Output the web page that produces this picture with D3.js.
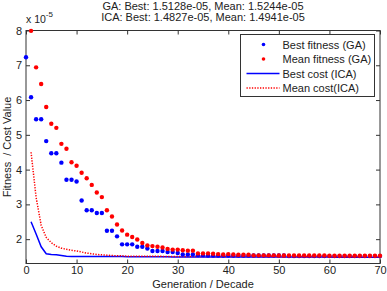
<!DOCTYPE html>
<html>
<head>
<meta charset="utf-8">
<script src="https://cdn.jsdelivr.net/npm/d3@7"></script>
<style>
  body { margin: 0; background: #fff; }
  svg { font-family: "Liberation Sans", Arial, sans-serif; }
</style>
</head>
<body>
<div id="chart"></div>
<script>
// GA results, one value per generation (x 1e-5)
const gaGenerations = d3.range(0, 71);
const gaBest = [7.23, 6.08, 5.45, 5.45, 4.82, 4.47, 4.47, 4.20, 3.71, 3.71,
  3.66, 3.11, 2.83, 2.83, 2.75, 2.75, 2.24, 2.24, 2.08, 1.85,
  1.85, 1.85, 1.78, 1.78, 1.73, 1.66, 1.66, 1.66, 1.63, 1.63,
  1.60, 1.56, 1.56, 1.56, 1.54, 1.54, 1.53, 1.53, 1.53, 1.53,
  1.53, 1.53, 1.53, 1.53, 1.53, 1.53, 1.53, 1.53, 1.53, 1.53,
  1.53, 1.53, 1.513, 1.513, 1.513, 1.513, 1.513, 1.513, 1.513, 1.513,
  1.513, 1.513, 1.513, 1.513, 1.513, 1.513, 1.513, 1.513, 1.513, 1.513, 1.513];
// mean at generation 0 lies above the axis limit and is not visible
const gaMean = [null, 7.99, 6.94, 6.46, 5.80, 5.32, 5.20, 4.74, 4.60, 4.21,
  4.11, 3.91, 3.75, 3.56, 3.34, 3.21, 2.83, 2.65, 2.42, 2.25,
  2.13, 2.06, 1.99, 1.89, 1.82, 1.80, 1.78, 1.76, 1.72, 1.70,
  1.70, 1.68, 1.67, 1.67, 1.59, 1.59, 1.59, 1.58, 1.57, 1.56,
  1.57, 1.56, 1.55, 1.55, 1.55, 1.535, 1.535, 1.535, 1.535, 1.535,
  1.53, 1.53, 1.53, 1.53, 1.53, 1.53, 1.53, 1.53, 1.53, 1.53,
  1.525, 1.525, 1.525, 1.525, 1.525, 1.525, 1.525, 1.525, 1.525, 1.525, 1.524];

// ICA results, one value per decade
const icaDecades = d3.range(1, 71);
const icaBest = [2.50, 2.15, 1.78, 1.58, 1.56, 1.55, 1.53, 1.51, 1.50, 1.50,
  1.50, 1.50, 1.50, 1.50, 1.50, 1.50, 1.50, 1.50, 1.50, 1.495,
  1.495, 1.495, 1.495, 1.495, 1.495, 1.495, 1.495, 1.495, 1.49, 1.49,
  1.49, 1.49, 1.49, 1.49, 1.49, 1.49, 1.49, 1.49, 1.49, 1.49,
  1.488, 1.488, 1.488, 1.488, 1.488, 1.488, 1.488, 1.488, 1.488, 1.488,
  1.485, 1.485, 1.485, 1.485, 1.485, 1.485, 1.485, 1.485, 1.485, 1.485,
  1.483, 1.483, 1.483, 1.483, 1.483, 1.483, 1.483, 1.483, 1.483, 1.483];
const icaMean = [4.50, 3.20, 2.40, 2.05, 1.90, 1.80, 1.74, 1.71, 1.68, 1.66,
  1.63, 1.60, 1.58, 1.56, 1.55, 1.54, 1.53, 1.52, 1.52, 1.51,
  1.51, 1.51, 1.51, 1.505, 1.505, 1.505, 1.505, 1.50, 1.50, 1.50,
  1.50, 1.50, 1.50, 1.50, 1.50, 1.50, 1.50, 1.50, 1.50, 1.50,
  1.498, 1.498, 1.498, 1.498, 1.498, 1.498, 1.498, 1.498, 1.498, 1.498,
  1.496, 1.496, 1.496, 1.496, 1.496, 1.496, 1.496, 1.496, 1.496, 1.496,
  1.494, 1.494, 1.494, 1.494, 1.494, 1.494, 1.494, 1.494, 1.494, 1.494];

const xTicks = [0, 10, 20, 30, 40, 50, 60, 70];
const yTicks = [2, 3, 4, 5, 6, 7, 8];
const titleLines = ["GA: Best: 1.5128e-05, Mean: 1.5244e-05",
  "ICA: Best: 1.4827e-05, Mean: 1.4941e-05"];
const legendItems = [
  { label: "Best fitness (GA)", color: "#0000ff", kind: "dot" },
  { label: "Mean fitness (GA)", color: "#ff0000", kind: "dot" },
  { label: "Best cost (ICA)", color: "#0000ff", kind: "solid" },
  { label: "Mean cost(ICA)", color: "#ff0000", kind: "dotted" }
];

const W = 387, H = 291;
const margin = { top: 30.5, right: 7, bottom: 27.5, left: 26 };
const width = W - margin.left - margin.right;
const height = H - margin.top - margin.bottom;

const svg = d3.select("#chart").append("svg")
  .attr("width", W).attr("height", H);

const g = svg.append("g")
  .attr("transform", `translate(${margin.left},${margin.top})`);

const x = d3.scaleLinear().domain([0, 70]).range([0, width]);
const y = d3.scaleLinear().domain([1.3, 8]).range([height, 0]);

// markers sitting on the limits stay whole, like in the original figure
svg.append("defs").append("clipPath").attr("id", "clip")
  .append("rect").attr("x", -3).attr("y", -3)
  .attr("width", width + 6).attr("height", height + 3.5);

const axisColor = "#333";

// ticks (inside, on all four sides)
const tickLen = 4;
g.append("g").call(d3.axisBottom(x).tickValues(xTicks).tickSize(-tickLen).tickPadding(3).tickFormat(d3.format("d")))
  .attr("transform", `translate(0,${height})`)
  .call(a => a.select(".domain").remove())
  .call(a => a.selectAll("line").attr("stroke", axisColor))
  .call(a => a.selectAll("text").attr("font-size", 11).attr("fill", "#222").attr("font-family", null));
g.append("g").call(d3.axisTop(x).tickValues(xTicks).tickSize(-tickLen).tickFormat(""))
  .call(a => a.select(".domain").remove())
  .call(a => a.selectAll("line").attr("stroke", axisColor));
g.append("g").call(d3.axisLeft(y).tickValues(yTicks).tickSize(-tickLen).tickPadding(4).tickFormat(d3.format("d")))
  .call(a => a.select(".domain").remove())
  .call(a => a.selectAll("line").attr("stroke", axisColor))
  .call(a => a.selectAll("text").attr("font-size", 11).attr("fill", "#222").attr("font-family", null));
g.append("g").attr("transform", `translate(${width},0)`)
  .call(d3.axisRight(y).tickValues(yTicks).tickSize(-tickLen).tickFormat(""))
  .call(a => a.select(".domain").remove())
  .call(a => a.selectAll("line").attr("stroke", axisColor));

// axes box
g.append("rect").attr("width", width).attr("height", height)
  .attr("fill", "none").attr("stroke", axisColor).attr("stroke-width", 1);

const marks = g.append("g").attr("clip-path", "url(#clip)");

const line = d3.line()
  .defined(d => d[1] != null)
  .x(d => x(d[0])).y(d => y(d[1]));

marks.append("path")
  .datum(icaDecades.map((dec, i) => [dec, icaBest[i]]))
  .attr("fill", "none").attr("stroke", "#0000ff").attr("stroke-width", 1.5)
  .attr("d", line);

marks.append("path")
  .datum(icaDecades.map((dec, i) => [dec, icaMean[i]]))
  .attr("fill", "none").attr("stroke", "#ff0000").attr("stroke-width", 1.5)
  .attr("stroke-dasharray", "1.3 1.4")
  .attr("d", line);

marks.append("g").selectAll("circle")
  .data(gaGenerations.map((gen, i) => [gen, gaBest[i]]))
  .join("circle")
  .attr("cx", d => x(d[0])).attr("cy", d => y(d[1]))
  .attr("r", 2.2).attr("fill", "#0000ff");

marks.append("g").selectAll("circle")
  .data(gaGenerations.map((gen, i) => [gen, gaMean[i]]).filter(d => d[1] != null))
  .join("circle")
  .attr("cx", d => x(d[0])).attr("cy", d => y(d[1]))
  .attr("r", 2.2).attr("fill", "#ff0000");

// titles
svg.append("g").selectAll("text")
  .data(titleLines)
  .join("text")
  .attr("x", margin.left + width / 2)
  .attr("y", (d, i) => 9.5 + i * 11)
  .attr("text-anchor", "middle")
  .attr("font-size", 11).attr("fill", "#222")
  .text(d => d);

// exponent
const expo = svg.append("text").attr("x", 26).attr("y", 22.5)
  .attr("font-size", 10.5).attr("fill", "#222");
expo.append("tspan").text("x 10");
expo.append("tspan").attr("dy", -6).attr("font-size", 8).text("-5");

// axis labels
svg.append("text")
  .attr("x", margin.left + width / 2).attr("y", 287.5)
  .attr("text-anchor", "middle").attr("font-size", 11).attr("fill", "#222")
  .text("Generation / Decade");

svg.append("text")
  .attr("transform", `translate(11,${margin.top + height / 2}) rotate(-90)`)
  .attr("text-anchor", "middle").attr("font-size", 11).attr("fill", "#222")
  .style("white-space", "pre")
  .text("Fitness  / Cost Value");

// legend
const lg = svg.append("g").attr("transform", "translate(240.5,34.5)");
lg.append("rect").attr("width", 134).attr("height", 62)
  .attr("fill", "#fff").attr("stroke", axisColor);

const rows = lg.selectAll("g.row")
  .data(legendItems)
  .join("g").attr("class", "row")
  .attr("transform", (d, i) => `translate(0,${10 + i * 14.5})`);

rows.filter(d => d.kind === "dot").append("circle")
  .attr("cx", 23).attr("cy", 0).attr("r", 1.8)
  .attr("fill", d => d.color);
rows.filter(d => d.kind !== "dot").append("line")
  .attr("x1", 6).attr("x2", 39).attr("y1", 0).attr("y2", 0)
  .attr("stroke", d => d.color).attr("stroke-width", 1.5)
  .attr("stroke-dasharray", d => d.kind === "dotted" ? "1.3 1.4" : null);
rows.append("text")
  .attr("x", 42).attr("y", 4)
  .attr("font-size", 11).attr("fill", "#222")
  .text(d => d.label);
</script>
</body>
</html>
